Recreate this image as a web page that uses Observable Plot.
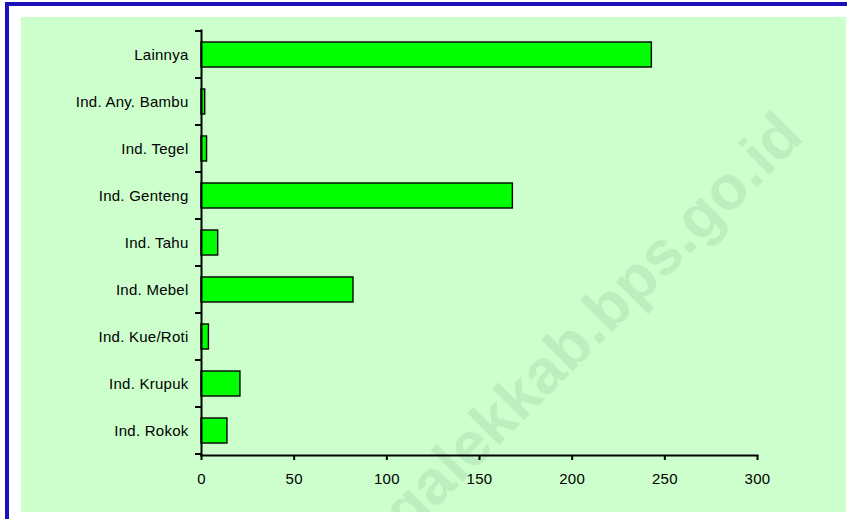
<!DOCTYPE html>
<html>
<head>
<meta charset="utf-8">
<script src="https://cdn.jsdelivr.net/npm/d3@7"></script>
<script src="https://cdn.jsdelivr.net/npm/@observablehq/plot@0.6"></script>
<style>
  html, body { margin: 0; padding: 0; background: #fff; }
  #page { position: relative; width: 847px; height: 519px; overflow: hidden; background: #fff; }
  #bTop { position: absolute; left: 5px; top: 2px; width: 842px; height: 4px; background: #1c10b8; }
  #bLeft { position: absolute; left: 5px; top: 2px; width: 4px; height: 517px; background: #1c10b8; }
  #area { position: absolute; left: 21px; top: 17px; width: 825px; height: 495px; background: #ccffcc; overflow: hidden; }
  #area svg { display: block; }
</style>
</head>
<body>
<div id="page">
  <div id="bTop"></div>
  <div id="bLeft"></div>
  <div id="area"></div>
</div>
<script>
// Categories, top to bottom as shown
const categories = ["Lainnya", "Ind. Any. Bambu", "Ind. Tegel", "Ind. Genteng", "Ind. Tahu",
                    "Ind. Mebel", "Ind. Kue/Roti", "Ind. Krupuk", "Ind. Rokok"];
const values = [243, 2, 3, 168, 9, 82, 4, 21, 14];
const xTicks = [0, 50, 100, 150, 200, 250, 300];
const watermark = ["galekkab.bps.go.id"];

const data = categories.map((c, i) => ({cat: c, value: values[i]}));

const W = 825, H = 495;
const plot = Plot.plot({
  width: W,
  height: H,
  marginLeft: 180,
  marginRight: 89,
  marginTop: 13,
  marginBottom: 57,
  style: {background: "transparent", fontFamily: "'Liberation Sans', Arial, sans-serif", fontSize: "15px", color: "#000", overflow: "hidden", letterSpacing: "0.25px"},
  x: {domain: [0, 300], label: null},
  y: {domain: categories, paddingInner: 0.46, paddingOuter: 0.23, label: null},
  marks: [
    Plot.text(watermark, {
      frameAnchor: "top-left", dx: 604, dy: 108, text: d => d, textAnchor: "end", lineAnchor: "bottom",
      rotate: -45, fontSize: 62, fontWeight: "bold", fill: "#bdeec0", letterSpacing: "0px",
      fontFamily: "'Liberation Sans', Arial, sans-serif"
    }),
    Plot.barX(data, {x: "value", y: "cat", fill: "#00ff00", stroke: "#000", strokeWidth: 1.4}),
    Plot.frame({anchor: "bottom", stroke: "#000", strokeWidth: 2}),
    Plot.frame({anchor: "left", stroke: "#000", strokeWidth: 2}),
    Plot.axisX({ticks: xTicks, tickSize: 5, tickPadding: 13, tickFormat: d => String(d), stroke: "#000", strokeWidth: 2, fill: "#000", label: null}),
    Plot.axisY({tickSize: 0, tickPadding: 13, fill: "#000", label: null})
  ]
});

// boundary ticks on the category axis, derived from the band scale
const ys = plot.scale("y");
const xs = plot.scale("x");
const half = (ys.step - ys.bandwidth) / 2;
const bounds = categories.map(c => ys.apply(c) - half);
bounds.push(ys.apply(categories[categories.length - 1]) + ys.bandwidth + half);
const x0 = xs.apply(0);
d3.select(plot).append("g")
  .attr("stroke", "#000").attr("stroke-width", 2)
  .selectAll("line").data(bounds).join("line")
  .attr("x1", x0 - 6).attr("x2", x0)
  .attr("y1", d => d).attr("y2", d => d);

document.getElementById("area").appendChild(plot);
</script>
</body>
</html>
